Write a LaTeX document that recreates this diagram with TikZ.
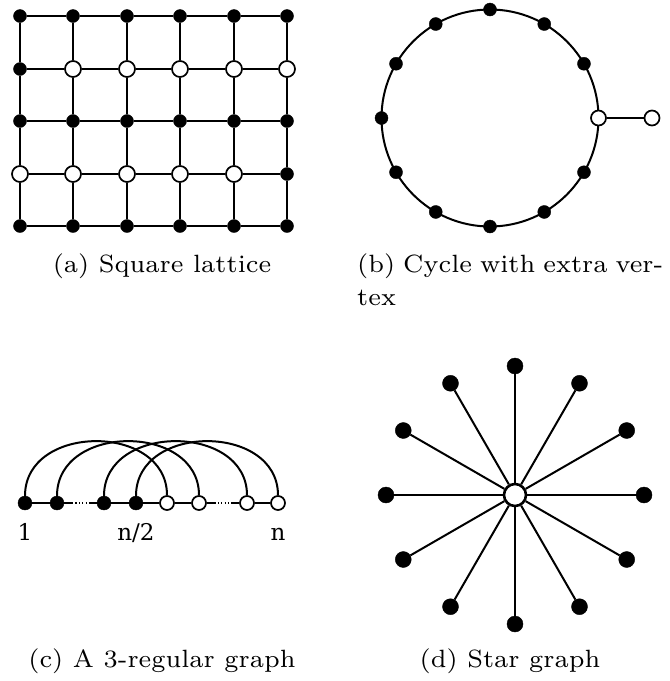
\documentclass[tikz,border=0pt]{standalone}
\usepackage{fontspec}
\usetikzlibrary{positioning,calc}
\newfontfamily\capfont{lmroman7-regular.otf}
\newfontfamily\numfont{DejaVu Serif}
\tikzset{
  subcap/.style={font=\capfont\fontsize{25}{33}\selectfont, inner sep=0pt},
  lab/.style={font=\numfont\fontsize{23}{26}\selectfont, inner sep=0pt,
    anchor=base},
}

\begin{document}
\begin{tikzpicture}[
  x=1pt, y=-1pt,
  edge/.style={line width=2pt, black},
  blk/.style={circle, fill=black, draw=black, line width=0.4pt,
    minimum size=13pt, inner sep=0pt},
  wht/.style={circle, fill=white, draw=black, line width=1.7pt,
    minimum size=16pt, inner sep=0pt},
  leaf/.style={blk, minimum size=16pt},
  hub/.style={wht, line width=2.6pt, minimum size=22pt},
  gap/.style={edge, dash pattern=on 1.2pt off 2.2pt},
]
\useasboundingbox (0,0) rectangle (670,681);
% ---------------------------------------------------------------- (a) lattice
\foreach \c/\x in {1/20,2/73,3/127,4/180,5/234,6/287} {
  \node[blk] (a1\c) at (\x,16) {};
  \node[blk] (a3\c) at (\x,121) {};
  \node[blk] (a5\c) at (\x,226) {};
}
\node[blk] (a21) at (20,69) {};
\foreach \c/\x in {2/73,3/127,4/180,5/234,6/287}
  \node[wht] (a2\c) at (\x,69) {};
\foreach \c/\x in {1/20,2/73,3/127,4/180,5/234}
  \node[wht] (a4\c) at (\x,174) {};
\node[blk] (a46) at (287,174) {};
\foreach \r in {1,...,5} {
  \foreach \c [evaluate=\c as \d using int(\c+1)] in {1,...,5}
    \draw[edge] (a\r\c) -- (a\r\d);
}
\foreach \c in {1,...,6} {
  \foreach \r [evaluate=\r as \s using int(\r+1)] in {1,...,4}
    \draw[edge] (a\r\c) -- (a\s\c);
}
% ---------------------------------------------------------------- (b) cycle
\coordinate (bc) at (490,118);
\draw[edge] (bc) circle[radius=108.5];
\node[wht, minimum size=15pt] (b0) at ($(bc)+(0:108.5)$) {};
\foreach \k in {1,...,11}
  \node[blk] (b\k) at ($(bc)+(30*\k:108.5)$) {};
\node[wht, minimum size=15pt] (bx) at (652,118) {};
\draw[edge] (b0) -- (bx);
% ---------------------------------------------------------------- (c) 3-regular
\foreach \k/\x in {1/25,2/57,3/104,4/136}
  \node[blk, minimum size=14pt] (c\k) at (\x,503) {};
\foreach \k/\x in {5/167,6/199,7/247,8/278}
  \node[wht, minimum size=14pt] (c\k) at (\x,503) {};
\coordinate (g1) at ($(c2)!0.32!(c3)$);
\coordinate (g2) at ($(c2)!0.68!(c3)$);
\coordinate (g3) at ($(c6)!0.32!(c7)$);
\coordinate (g4) at ($(c6)!0.68!(c7)$);
\draw[edge] (c1) -- (c2);
\draw[edge] (c2) -- (g1);
\draw[gap] (g1) -- (g2);
\draw[edge] (g2) -- (c3);
\draw[edge] (c3) -- (c4);
\draw[edge] (c4) -- (c5);
\draw[edge] (c5) -- (c6);
\draw[edge] (c6) -- (g3);
\draw[gap] (g3) -- (g4);
\draw[edge] (g4) -- (c7);
\draw[edge] (c7) -- (c8);
\foreach \i/\j in {1/5,2/6,3/7,4/8}
  \draw[edge] (c\i) .. controls +(0,-80) and +(0,-80) .. (c\j);
\coordinate (cb) at (0,540);
\node[lab] (l1) at (c1 |- cb) {1};
\node[lab] (lhalf) at (c4 |- cb) {n/2};
\node[lab] (ln) at (c8 |- cb) {n};
% ---------------------------------------------------------------- (d) star
\node[hub] (ctr) at (515,495) {};
\foreach \k in {0,...,11} {
  \node[leaf] (s\k) at ($(ctr)+(30*\k:129)$) {};
  \draw[edge] (ctr) -- (s\k);
}
% ---------------------------------------------------------------- captions
\node[subcap, anchor=base] (capa) at (162,272) {(a) Square lattice};
\node[subcap, anchor=north west, align=left] (capb) at (357,253.5)
  {\makebox[306pt][s]{(b) Cycle with extra ver-}\\tex};
\node[subcap, anchor=base] (capc) at (162,667) {(c) A 3-regular graph};
\node[subcap, anchor=base] (capd) at (510,667) {(d) Star graph};
\end{tikzpicture}
\end{document}
